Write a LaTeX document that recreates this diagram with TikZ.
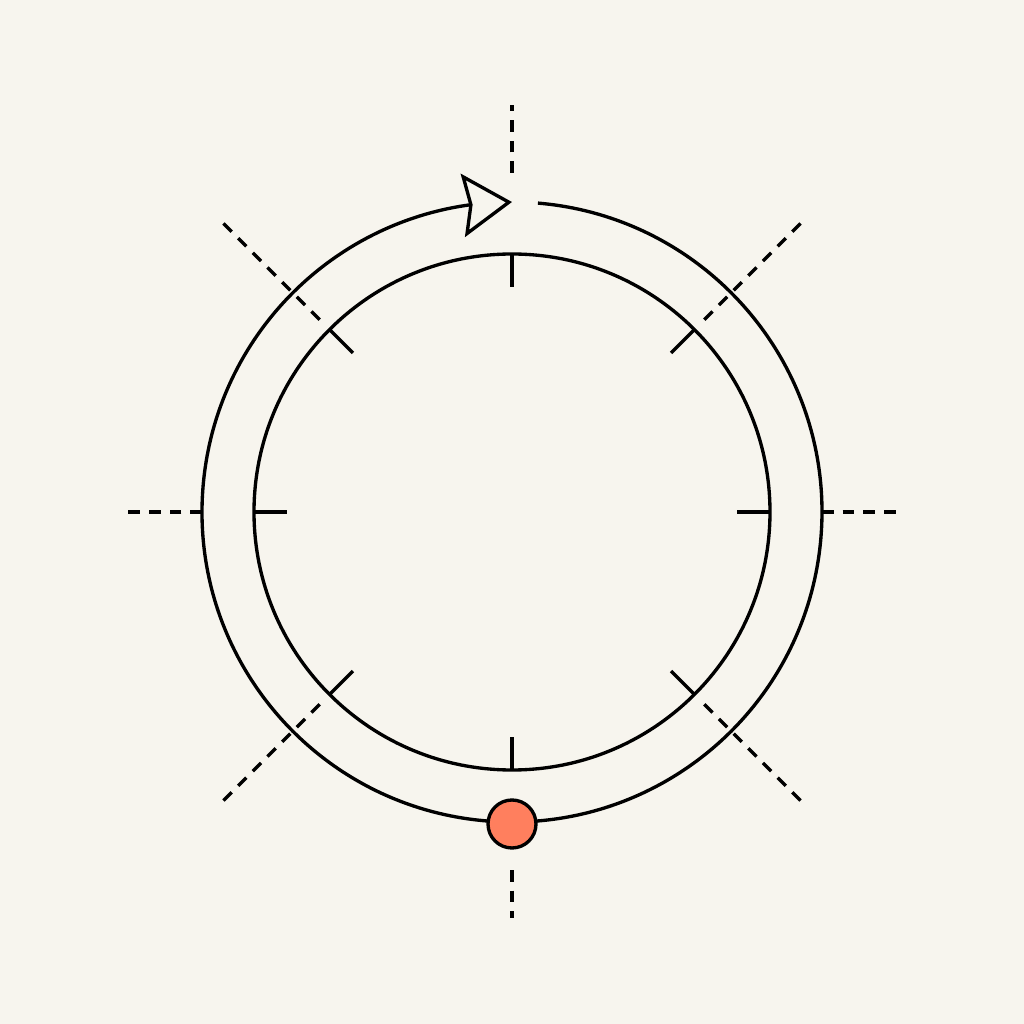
\documentclass[tikz,border=0pt]{standalone}
\usepackage{xcolor}
\usetikzlibrary{arrows.meta, bending}
\definecolor{paper}{RGB}{247,245,238}
\definecolor{coral}{RGB}{255,127,94}
\tikzset{
  ring/.style={line width=0.95pt, black},
  guide/.style={line width=0.95pt, black, dash pattern=on 3.3pt off 2.6pt},
  tick/.style={line width=0.95pt, black}
}

\begin{document}
\begin{tikzpicture}
\fill[paper] (0,0) rectangle (10.24,10.24); %background
\useasboundingbox (0,0) rectangle (10.24,10.24);
\coordinate (o) at (5.12,5.12);
\begin{scope}[shift={(o)}]
% dashed guides outside
\draw[guide] (90:3.39) -- (90:4.07);
\draw[guide] (-90:3.58) -- (-90:4.06);
\draw[guide] (180:3.10) -- (180:3.92);
\draw[guide] (0:3.10) -- (0:3.92);
\foreach \a in {45,135,225,315}
  \draw[guide] (\a:2.72) -- (\a:4.15);
% inner circle and ticks
\draw[ring] (0,0) circle (2.58);
\foreach \a in {0,45,...,315}
  \draw[tick] (\a:2.58) -- (\a:2.25);
% outer circle with arrow
\draw[ring, -{Stealth[open, length=14pt, width=18pt, inset=1.8pt, flex]}]
  (85.2:3.10) arc[start angle=85.2, end angle=-270, radius=3.10];
\node[circle, draw, line width=0.95pt, fill=coral, minimum size=0.48cm, inner sep=0pt] (dot) at (-90:3.12) {};
\end{scope}
\end{tikzpicture}
\end{document}
